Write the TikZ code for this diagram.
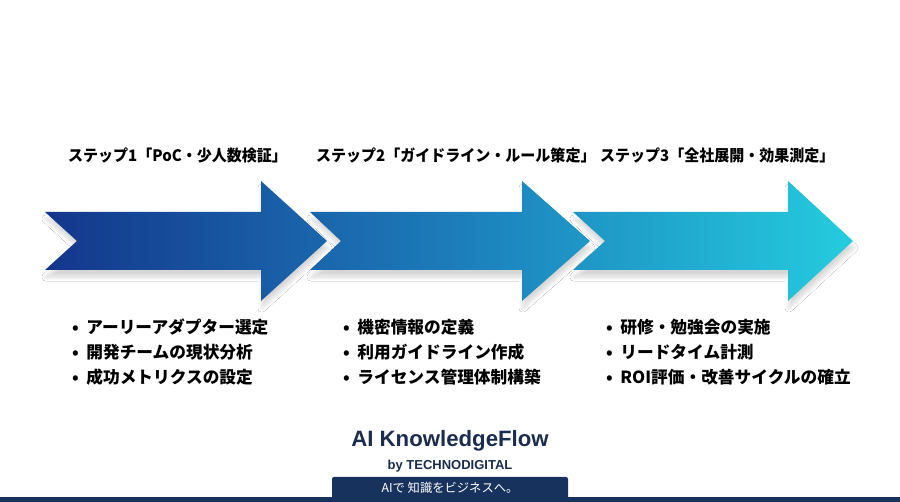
\documentclass[tikz,border=0pt]{standalone}
\usepackage{fontspec}
\usetikzlibrary{shadows.blur}
\newfontfamily\jp{Noto Sans CJK JP}
\newfontfamily\jpn{Noto Sans CJK JP}[FakeStretch=0.95]
\newfontfamily\lat{Liberation Sans}
\definecolor{navy}{RGB}{27,45,79}
\definecolor{band}{RGB}{24,50,94}
\definecolor{arrA}{RGB}{20,54,140}
\definecolor{arrB}{RGB}{28,124,186}
\definecolor{arrC}{RGB}{36,204,222}
\tikzset{
  steptitle/.style={anchor=west, inner sep=0pt, font=\jpn\bfseries\fontsize{15.8}{18}\selectfont, text=black},
  bulletline/.style={anchor=west, inner sep=0pt, font=\jp\bfseries\fontsize{16.7}{18}\selectfont, text=black},
}
\newcommand{\bul}{•\hspace{0.45em}}
\begin{document}
\begin{tikzpicture}[x=1pt,y=-1pt]
\useasboundingbox (0,0) rectangle (900,502);
\fill[white] (0,0) rectangle (900,502);
% arrows
\path[left color=arrA, right color=arrC, middle color=arrB,
  blur shadow={shadow xshift=1pt, shadow yshift=-7pt, shadow blur steps=12, shadow blur radius=4pt, shadow opacity=16}]
  (45,212) -- (261,212) -- (261,181) -- (327,241) -- (261,301) -- (261,270) -- (45,270) -- (77,241) -- cycle
  (310,212) -- (522,212) -- (522,181) -- (590,241) -- (522,301) -- (522,270) -- (310,270) -- (341,241) -- cycle
  (573,212) -- (788,212) -- (788,181) -- (853,241) -- (788,301) -- (788,270) -- (573,270) -- (605,241) -- cycle;
% titles
\node[steptitle] (t1) at (68,155) {ステップ1「PoC・少人数検証」};
\node[steptitle] (t2) at (316,155) {ステップ2「ガイドライン・ルール策定」};
\node[steptitle] (t3) at (600,155) {ステップ3「全社展開・効果測定」};
% bullets
\node[bulletline] (a1) at (72,327) {\bul アーリーアダプター選定};
\node[bulletline] (a2) at (72,352) {\bul 開発チームの現状分析};
\node[bulletline] (a3) at (72,377) {\bul 成功メトリクスの設定};
\node[bulletline] (b1) at (343,327) {\bul 機密情報の定義};
\node[bulletline] (b2) at (343,352) {\bul 利用ガイドライン作成};
\node[bulletline] (b3) at (343,377) {\bul ライセンス管理体制構築};
\node[bulletline] (c1) at (606,327) {\bul 研修・勉強会の実施};
\node[bulletline] (c2) at (606,352) {\bul リードタイム計測};
\node[bulletline] (c3) at (606,377) {\bul ROI評価・改善サイクルの確立};
% footer
\node[inner sep=0pt, text=navy, font=\lat\bfseries\fontsize{22.2}{25}\selectfont] (brand) at (450,441) {AI KnowledgeFlow};
\node[inner sep=0pt, text=navy, font=\lat\bfseries\fontsize{13}{15}\selectfont] (by) at (450,466) {by TECHNODIGITAL};
\fill[band] (0,497) rectangle (900,502);
\fill[band, rounded corners=2pt] (332,502) -- (332,477) -- (568,477) -- (568,502);
\fill[band] (332,495) rectangle (568,502);
\node[inner sep=0pt, text=white, font=\jp\fontsize{12.3}{15}\selectfont] (tag) at (450,488) {AIで 知識をビジネスへ。};
\end{tikzpicture}
\end{document}
